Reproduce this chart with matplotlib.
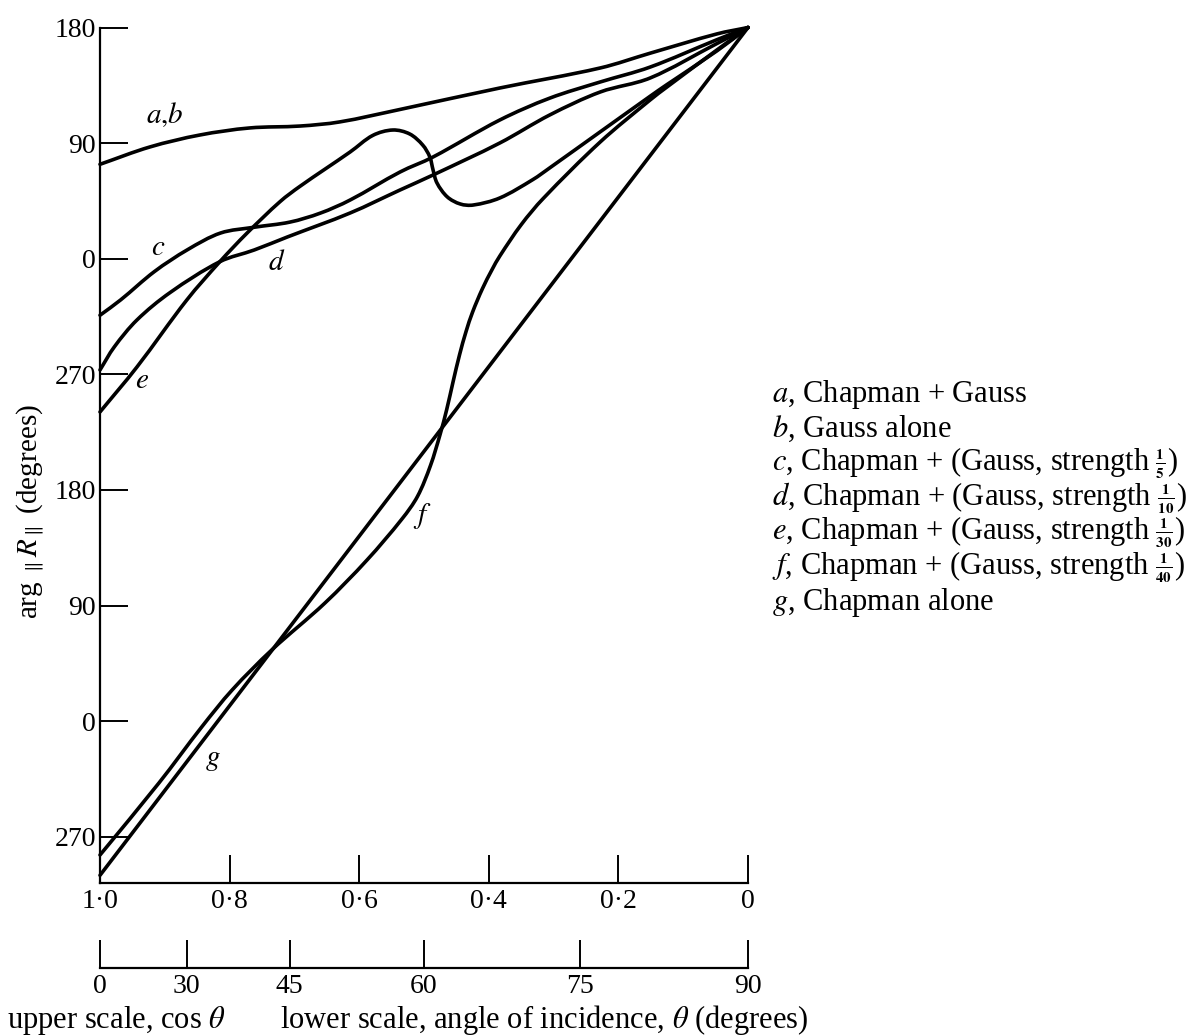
import numpy as np
import matplotlib.pyplot as plt
from matplotlib.path import Path
from matplotlib.patches import PathPatch

plt.rcParams['font.family'] = ['Liberation Serif', 'DejaVu Serif']
plt.rcParams['mathtext.fontset'] = 'stix'

# phase of R (degrees, unwrapped: 180 at top down to 270 two turns below) vs cos(theta)
a_cos = [1.0, 0.923, 0.846, 0.769, 0.691, 0.630, 0.537, 0.383, 0.228, 0.151, 0.048, 0.0]
a_deg = [73.5, 87.0, 96.3, 101.8, 103.3, 106.5, 116.2, 132.9, 148.5, 160.0, 175.0, 180.0]

c_cos = [1.0, 0.968, 0.916, 0.865, 0.814, 0.762, 0.707, 0.660, 0.614, 0.537, 0.486,
         0.383, 0.306, 0.228, 0.151, 0.048, 0.0]
c_deg = [-44.0, -32.0, -10.0, 7.0, 20.0, 24.5, 28.5, 35.5, 45.7, 67.5, 79.2,
         108.0, 125.0, 137.6, 149.2, 170.5, 180.0]

d_cos = [1.0, 0.978, 0.943, 0.892, 0.815, 0.762, 0.711, 0.614, 0.537, 0.486,
         0.383, 0.306, 0.228, 0.151, 0.048, 0.0]
d_deg = [-86.6, -68.7, -47.7, -26.4, -2.3, 6.8, 16.9, 35.6, 53.5, 65.2,
         90.1, 111.9, 129.8, 140.7, 167.5, 180.0]

e_cos = [1.0, 0.943, 0.866, 0.815, 0.773, 0.722, 0.691, 0.614, 0.579, 0.548, 0.522,
         0.502, 0.491, 0.486, 0.480, 0.464, 0.444, 0.424, 0.383, 0.332, 0.306, 0.228,
         0.151, 0.125, 0.048, 0.0]
e_deg = [-119.3, -84.3, -32.1, -2.3, 20.0, 44.5, 56.5, 83.1, 96.0, 100.2, 97.1,
         88.5, 79.2, 69.1, 59.0, 48.1, 42.6, 41.8, 47.3, 61.6, 70.7, 98.8,
         126.5, 135.6, 161.8, 180.0]

f_cos = [1.0, 0.909, 0.843, 0.796, 0.735, 0.653, 0.588, 0.534, 0.510, 0.490, 0.475,
         0.465, 0.455, 0.445, 0.435, 0.425, 0.410, 0.395, 0.383, 0.350, 0.316, 0.228,
         0.151, 0.125, 0.048, 0.0]
f_deg = [-464.2, -408.1, -364.5, -335.7, -304.6, -268.1, -234.6, -202.6, -185.0, -161.0, -136.5,
         -117.5, -95.5, -74.5, -56.5, -41.5, -23.5, -8.5, 2.1, 26.5, 46.9, 90.9,
         123.6, 133.7, 162.5, 180.0]

g_cos = [1.0, 0.8, 0.6, 0.4, 0.2, 0.0]
g_deg = [-480.0, -348.0, -216.0, -84.0, 48.0, 180.0]

curves = [(a_cos, a_deg), (c_cos, c_deg), (d_cos, d_deg),
          (e_cos, e_deg), (f_cos, f_deg), (g_cos, g_deg)]

ytick_vals = [180, 90, 0, -90, -180, -270, -360, -450]
ytick_labels = ['180', '90', '0', '270', '180', '90', '0', '270']
xtick_vals = [1.0, 0.8, 0.6, 0.4, 0.2, 0.0]
xtick_labels = ['1·0', '0·8', '0·6', '0·4', '0·2', '0']
angle_ticks = [0, 30, 45, 60, 75, 90]

curve_labels = [(r'$a{,}b$', 0.900, 112), (r'$c$', 0.910, 8), (r'$d$', 0.727, -3),
                (r'$e$', 0.935, -95), (r'$f$', 0.503, -200), (r'$g$', 0.826, -390)]


def small_frac(num, den):
    return r'$\genfrac{}{}{0.6}{2}{\mathbf{%s}}{\mathbf{%s}}$' % (num, den)


legend_lines = [
    r'$a$, Chapman + Gauss',
    r'$b$, Gauss alone',
    r'$c$, Chapman + (Gauss, strength ' + small_frac(1, 5) + ')',
    r'$d$, Chapman + (Gauss, strength ' + small_frac(1, 10) + ')',
    r'$e$, Chapman + (Gauss, strength ' + small_frac(1, 30) + ')',
    r'$f$, Chapman + (Gauss, strength ' + small_frac(1, 40) + ')',
    r'$g$, Chapman alone',
]


def smooth_path(ax, xs, ys):
    # chord-length scaled cubic Bezier through the points, built in display space
    pts = ax.transData.transform(np.column_stack([xs, ys]))
    n = len(pts)
    tang = np.zeros_like(pts)
    for i in range(n):
        p_prev = pts[max(i - 1, 0)]
        p_next = pts[min(i + 1, n - 1)]
        span = np.linalg.norm(p_next - pts[i]) + np.linalg.norm(pts[i] - p_prev)
        tang[i] = (p_next - p_prev) / span if span > 0 else 0
    verts = [pts[0]]
    codes = [Path.MOVETO]
    for i in range(n - 1):
        seg = np.linalg.norm(pts[i + 1] - pts[i])
        verts += [pts[i] + tang[i] * seg / 3, pts[i + 1] - tang[i + 1] * seg / 3, pts[i + 1]]
        codes += [Path.CURVE4] * 3
    verts = ax.transData.inverted().transform(np.array(verts))
    return Path(verts, codes)


fig = plt.figure(figsize=(12, 10.36), dpi=100)
ax = fig.add_axes([100 / 1200, 153 / 1036, 648 / 1200, 855.5 / 1036])
ax.set_xlim(1.0, 0.0)
ax.set_ylim(-486, 180)

for xs, ys in curves:
    ax.add_patch(PathPatch(smooth_path(ax, xs, ys), fill=False, lw=2.6, edgecolor='black',
                           capstyle='round', joinstyle='round', clip_on=False))

for txt, cx, cy in curve_labels:
    ax.text(cx, cy, txt, fontsize=21, ha='center', va='center')

for side in ['top', 'right']:
    ax.spines[side].set_visible(False)
for side in ['left', 'bottom']:
    ax.spines[side].set_linewidth(1.6)

ax.set_yticks(ytick_vals)
ax.set_yticklabels(ytick_labels)
ax.set_xticks(xtick_vals)
ax.set_xticklabels(xtick_labels)
ax.tick_params(direction='in', length=20, width=1.4, labelsize=20, pad=4)
ax.tick_params(axis='y', pad=3)

# lower scale: angle of incidence in degrees
sec = ax.secondary_xaxis(-85 / 855.5,
                         functions=(lambda c: np.degrees(np.arccos(np.clip(c, -1, 1))),
                                    lambda t: np.cos(np.radians(t))))
sec.set_xticks(angle_ticks)
sec.set_xticklabels([str(t) for t in angle_ticks])
sec.tick_params(direction='in', length=20, width=1.4, labelsize=20, pad=4)
sec.spines['bottom'].set_linewidth(1.6)

fig.text(0.025, 0.506, r'arg ${}_{\parallel}R_{\parallel}$ (degrees)', rotation=90,
         ha='center', va='center', fontsize=21)

for i, line in enumerate(legend_lines):
    fig.text(772 / 1200, 1 - (402 + 34.6 * i) / 1036, line, fontsize=22, ha='left', va='baseline')

fig.text(7 / 1200, 1 - 1028 / 1036, r'upper scale, cos $\theta$', fontsize=22, ha='left', va='baseline')
fig.text(280 / 1200, 1 - 1028 / 1036, r'lower scale, angle of incidence, $\theta$ (degrees)',
         fontsize=22, ha='left', va='baseline')

fig.savefig('out.png', dpi=100)
